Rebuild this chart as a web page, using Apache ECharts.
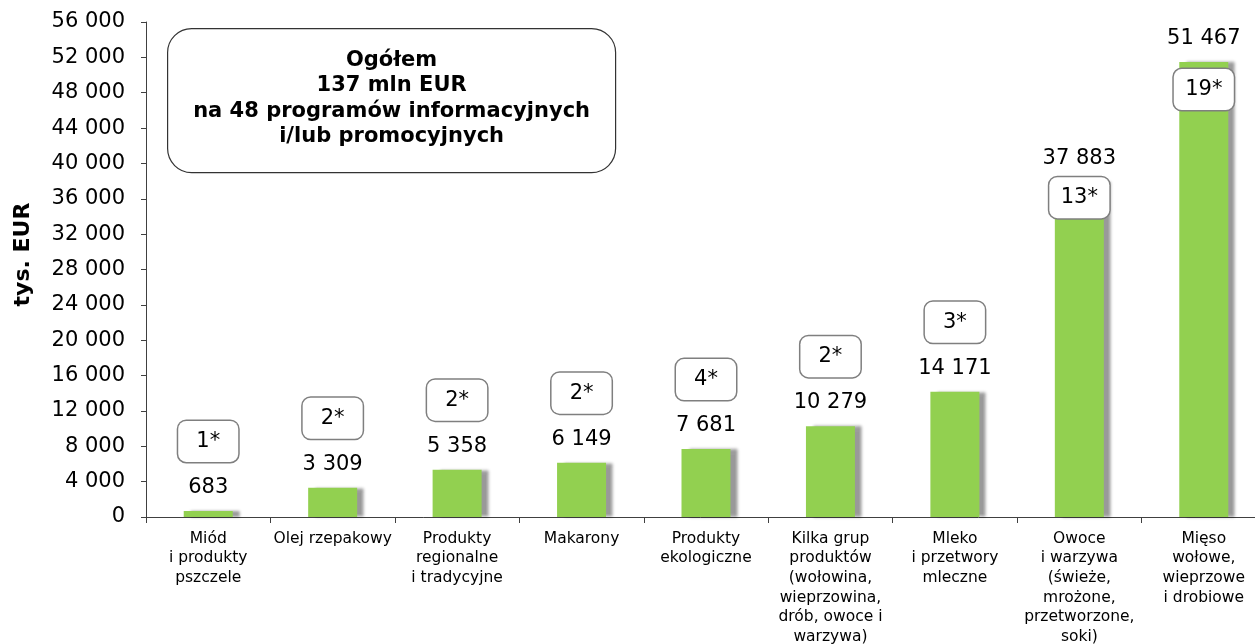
<!DOCTYPE html>
<html>
<head>
<meta charset="utf-8">
<script src="https://cdn.jsdelivr.net/npm/echarts@6/dist/echarts.min.js"></script>
<style>
  html, body { margin: 0; padding: 0; background: #fff; }
  #chart { width: 1255px; height: 644px; }
</style>
</head>
<body>
<div id="chart"></div>
<script>
// Sectors covered by the programmes
const categories = [
  'Miód\ni produkty\npszczele',
  'Olej rzepakowy',
  'Produkty\nregionalne\ni tradycyjne',
  'Makarony',
  'Produkty\nekologiczne',
  'Kilka grup\nproduktów\n(wołowina,\nwieprzowina,\ndrób, owoce i\nwarzywa)',
  'Mleko\ni przetwory\nmleczne',
  'Owoce\ni warzywa\n(świeże,\nmrożone,\nprzetworzone,\nsoki)',
  'Mięso\nwołowe,\nwieprzowe\ni drobiowe'
];

// Budget per sector, thousand EUR
const budget = [683, 3309, 5358, 6149, 7681, 10279, 14171, 37883, 51467];

// Number of programmes per sector
const programmes = [1, 2, 2, 2, 4, 2, 3, 13, 19];

// Summary box lines
const summaryLines = [
  'Ogółem',
  '137 mln EUR',
  'na 48 programów informacyjnych',
  'i/lub promocyjnych'
];

const yAxisName = 'tys. EUR';

const FONT = '"DejaVu Sans", Verdana, sans-serif';
const fmt = v => String(v).replace(/\B(?=(\d{3})+(?!\d))/g, ' ');

// Programme-count badges: above the value label for short bars,
// tucked into the top of the bar for the two tall ones.
const badgeStyle = {
  show: true,
  fontFamily: FONT,
  fontSize: 21,
  color: '#000',
  backgroundColor: '#fff',
  borderColor: '#7f7f7f',
  borderWidth: 1.5,
  borderRadius: 8,
  width: 60,
  height: 41,
  lineHeight: 41,
  align: 'center',
  padding: 0
};
const badgeData = budget.map((v, i) => {
  const item = { value: v };
  if (i === 7) item.label = { position: 'insideTop', distance: 0, offset: [0, -5] };
  if (i === 8) item.label = { position: 'insideTop', distance: 0, offset: [0, 7] };
  return item;
});

const chart = echarts.init(document.getElementById('chart'), null, { renderer: 'canvas' });

chart.setOption({
  animation: false,
  textStyle: { fontFamily: FONT },
  grid: {
    left: 146, right: -11, top: 22, bottom: 127,
    containLabel: false,
    outerBoundsMode: 'none'
  },
  xAxis: {
    type: 'category',
    data: categories,
    axisLine: { lineStyle: { color: '#404040', width: 1 } },
    axisTick: { show: true, length: 6, lineStyle: { color: '#404040' } },
    axisLabel: {
      interval: 0,
      margin: 12,
      fontFamily: FONT,
      fontSize: 15.5,
      lineHeight: 19.6,
      color: '#000'
    }
  },
  yAxis: {
    type: 'value',
    min: 0,
    max: 56000,
    interval: 4000,
    name: yAxisName,
    nameLocation: 'middle',
    nameGap: 112,
    nameTextStyle: {
      fontFamily: FONT,
      fontSize: 22,
      fontWeight: 'bold',
      color: '#000',
      padding: [0, 0, 0, 30]
    },
    axisLine: { show: true, lineStyle: { color: '#404040', width: 1 } },
    axisTick: { show: true, length: 5, lineStyle: { color: '#404040' } },
    splitLine: { show: false },
    axisLabel: {
      margin: 21,
      fontFamily: FONT,
      fontSize: 21,
      color: '#000',
      formatter: fmt
    }
  },
  series: [
    {
      type: 'bar',
      data: budget,
      barWidth: 49,
      itemStyle: {
        color: '#92d050',
        borderWidth: 0,
        shadowColor: 'rgba(0,0,0,0.4)',
        shadowBlur: 3,
        shadowOffsetX: 7,
        shadowOffsetY: 0
      },
      label: {
        show: true,
        position: 'top',
        distance: 13,
        fontFamily: FONT,
        fontSize: 21,
        color: '#000',
        formatter: p => fmt(p.value)
      },
      z: 2
    },
    {
      type: 'bar',
      data: badgeData,
      barWidth: 49,
      barGap: '-100%',
      silent: true,
      itemStyle: { color: 'rgba(0,0,0,0)' },
      label: Object.assign({}, badgeStyle, {
        position: 'top',
        distance: 49,
        formatter: p => programmes[p.dataIndex] + '*'
      }),
      z: 3
    }
  ],
  graphic: [
    {
      type: 'group',
      left: 167,
      top: 28,
      children: [
        {
          type: 'rect',
          shape: { x: 0, y: 0, width: 448, height: 144, r: 24 },
          style: { fill: '#fff', stroke: '#333', lineWidth: 1.2 }
        },
        {
          type: 'text',
          x: 224,
          y: 70,
          style: {
            text: summaryLines.join('\n'),
            font: 'bold 21px ' + FONT,
            fill: '#000',
            align: 'center',
            verticalAlign: 'middle',
            lineHeight: 25.5
          }
        }
      ]
    }
  ]
});
</script>
</body>
</html>
